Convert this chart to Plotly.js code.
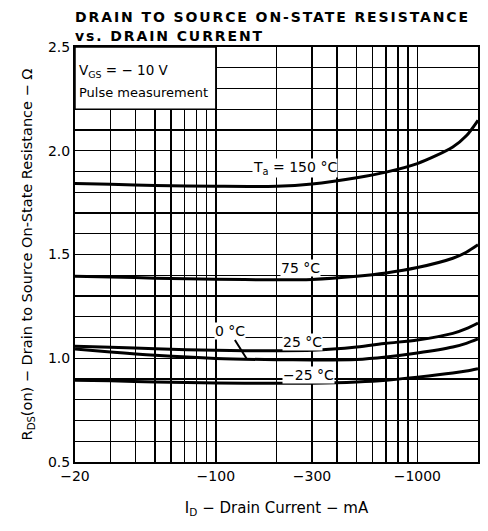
<!DOCTYPE html>
<html>
<head>
<meta charset="utf-8">
<script src="https://cdn.plot.ly/plotly-3.0.1.min.js"></script>
<style>
  html, body { margin: 0; padding: 0; background: #fff; }
  #chart { width: 488px; height: 531px; }
  .gtitle { letter-spacing: 1.9px; }
</style>
</head>
<body>
<div id="chart"></div>
<script>
// Drain current (mA, negative for this P-channel device)
const drainCurrent_mA = [-20, -30, -50, -100, -200, -300, -500, -700, -1000, -1500, -1750, -2000];

// RDS(on) in ohms per ambient temperature
const rds_150C = [1.842, 1.838, 1.833, 1.829, 1.829, 1.840, 1.870, 1.897, 1.938, 2.018, 2.072, 2.147];
const rds_75C  = [1.395, 1.392, 1.386, 1.381, 1.378, 1.380, 1.395, 1.411, 1.437, 1.482, 1.511, 1.547];
const rds_25C  = [1.058, 1.053, 1.046, 1.038, 1.036, 1.038, 1.054, 1.072, 1.088, 1.120, 1.143, 1.170];
const rds_0C   = [1.045, 1.030, 1.014, 0.999, 0.993, 0.992, 0.994, 1.006, 1.025, 1.054, 1.072, 1.093];
const rds_m25C = [0.894, 0.891, 0.886, 0.881, 0.879, 0.880, 0.886, 0.894, 0.909, 0.929, 0.939, 0.950];

const seriesNames = ['150 °C', '75 °C', '25 °C', '0 °C', '−25 °C'];

// Axis ticks / grid
const xGridVals = [20, 30, 40, 50, 60, 70, 80, 90, 100, 200, 300, 400, 500, 600, 700, 800, 900, 1000];
const xTickText = ['−20', '', '', '', '', '', '', '', '−100', '', '−300', '', '', '', '', '', '', '−1000'];
const yGridVals = [0.5, 0.6, 0.7, 0.8, 0.9, 1.0, 1.1, 1.2, 1.3, 1.4, 1.5, 1.6, 1.7, 1.8, 1.9, 2.0, 2.1, 2.2, 2.3, 2.4, 2.5];
const yTickText = ['0.5', '', '', '', '', '1.0', '', '', '', '', '1.5', '', '', '', '', '2.0', '', '', '', '', '2.5'];

const FONT = 'DejaVu Sans, Arial, sans-serif';
const magnitude = drainCurrent_mA.map(v => -v);
const allSeries = [rds_150C, rds_75C, rds_25C, rds_0C, rds_m25C];

const traces = allSeries.map((ys, i) => ({
  type: 'scatter',
  mode: 'lines',
  name: seriesNames[i],
  x: magnitude,
  y: ys,
  line: { color: '#000', width: 3, shape: 'spline', smoothing: 0.8 },
  hoverinfo: 'skip'
}));

const L = Math.log10;
const lbl = (text, xv, yv, extra) => Object.assign({
  text: text, x: L(xv), y: yv, xref: 'x', yref: 'y',
  showarrow: false, bgcolor: '#fff', borderpad: 0,
  font: { family: FONT, size: 14, color: '#000' }
}, extra || {});

const layout = {
  width: 488,
  height: 531,
  margin: { l: 75, r: 10, t: 47, b: 69 },
  paper_bgcolor: '#fff',
  plot_bgcolor: '#fff',
  showlegend: false,
  title: {
    text: 'DRAIN TO SOURCE ON-STATE RESISTANCE<br>vs. DRAIN CURRENT',
    font: { family: FONT, size: 14, weight: 'bold', color: '#000' },
    x: 0, xref: 'paper', xanchor: 'left',
    y: 0.958, yref: 'container', yanchor: 'top'
  },
  xaxis: {
    type: 'log',
    range: [L(20), L(2000)],
    tickmode: 'array',
    tickvals: xGridVals,
    ticktext: xTickText,
    ticks: '',
    showgrid: true,
    gridcolor: '#000',
    gridwidth: 1.4,
    showline: true,
    mirror: true,
    linecolor: '#000',
    linewidth: 2,
    zeroline: false,
    tickfont: { family: FONT, size: 14, color: '#000' },
    title: {
      text: 'I<sub>D</sub> − Drain Current − mA',
      font: { family: FONT, size: 15, color: '#000' },
      standoff: 20
    }
  },
  yaxis: {
    range: [0.5, 2.5],
    tickmode: 'array',
    tickvals: yGridVals,
    ticktext: yTickText,
    ticks: '',
    showgrid: true,
    gridcolor: '#000',
    gridwidth: 1.4,
    showline: true,
    mirror: true,
    linecolor: '#000',
    linewidth: 2,
    zeroline: false,
    tickfont: { family: FONT, size: 14, color: '#000' },
    title: {
      text: 'R<sub>DS</sub>(on) − Drain to Source On-State Resistance − Ω',
      font: { family: FONT, size: 14.5, color: '#000' },
      standoff: 12
    }
  },
  shapes: [
    {
      type: 'rect', layer: 'above',
      xref: 'paper', yref: 'y',
      x0: 0, x1: 0.3495, y0: 2.2, y1: 2.5,
      fillcolor: '#fff',
      line: { color: '#000', width: 1.5 }
    }
  ],
  annotations: [
    {
      text: 'V<sub>GS</sub> = − 10 V', xref: 'paper', yref: 'y', x: 0.006, y: 2.383,
      xanchor: 'left', yanchor: 'middle', showarrow: false,
      font: { family: FONT, size: 13.5, color: '#000' }
    },
    {
      text: 'Pulse measurement', xref: 'paper', yref: 'y', x: 0.006, y: 2.279,
      xanchor: 'left', yanchor: 'middle', showarrow: false,
      font: { family: FONT, size: 13, color: '#000' }
    },
    lbl('T<sub>a</sub> = 150 °C', 247, 1.915),
    lbl('75 °C', 262, 1.436),
    lbl('25 °C', 269, 1.079),
    lbl('−25 °C', 287, 0.921),
    {
      text: '0 °C', x: L(142), y: 0.999, xref: 'x', yref: 'y',
      showarrow: true, arrowhead: 0, arrowwidth: 2, arrowcolor: '#000',
      ax: -17, ay: -27, standoff: 0,
      bgcolor: '#fff', borderpad: 0,
      font: { family: FONT, size: 14, color: '#000' }
    }
  ]
};

Plotly.newPlot('chart', traces, layout, { staticPlot: true, displayModeBar: false });
</script>
</body>
</html>
